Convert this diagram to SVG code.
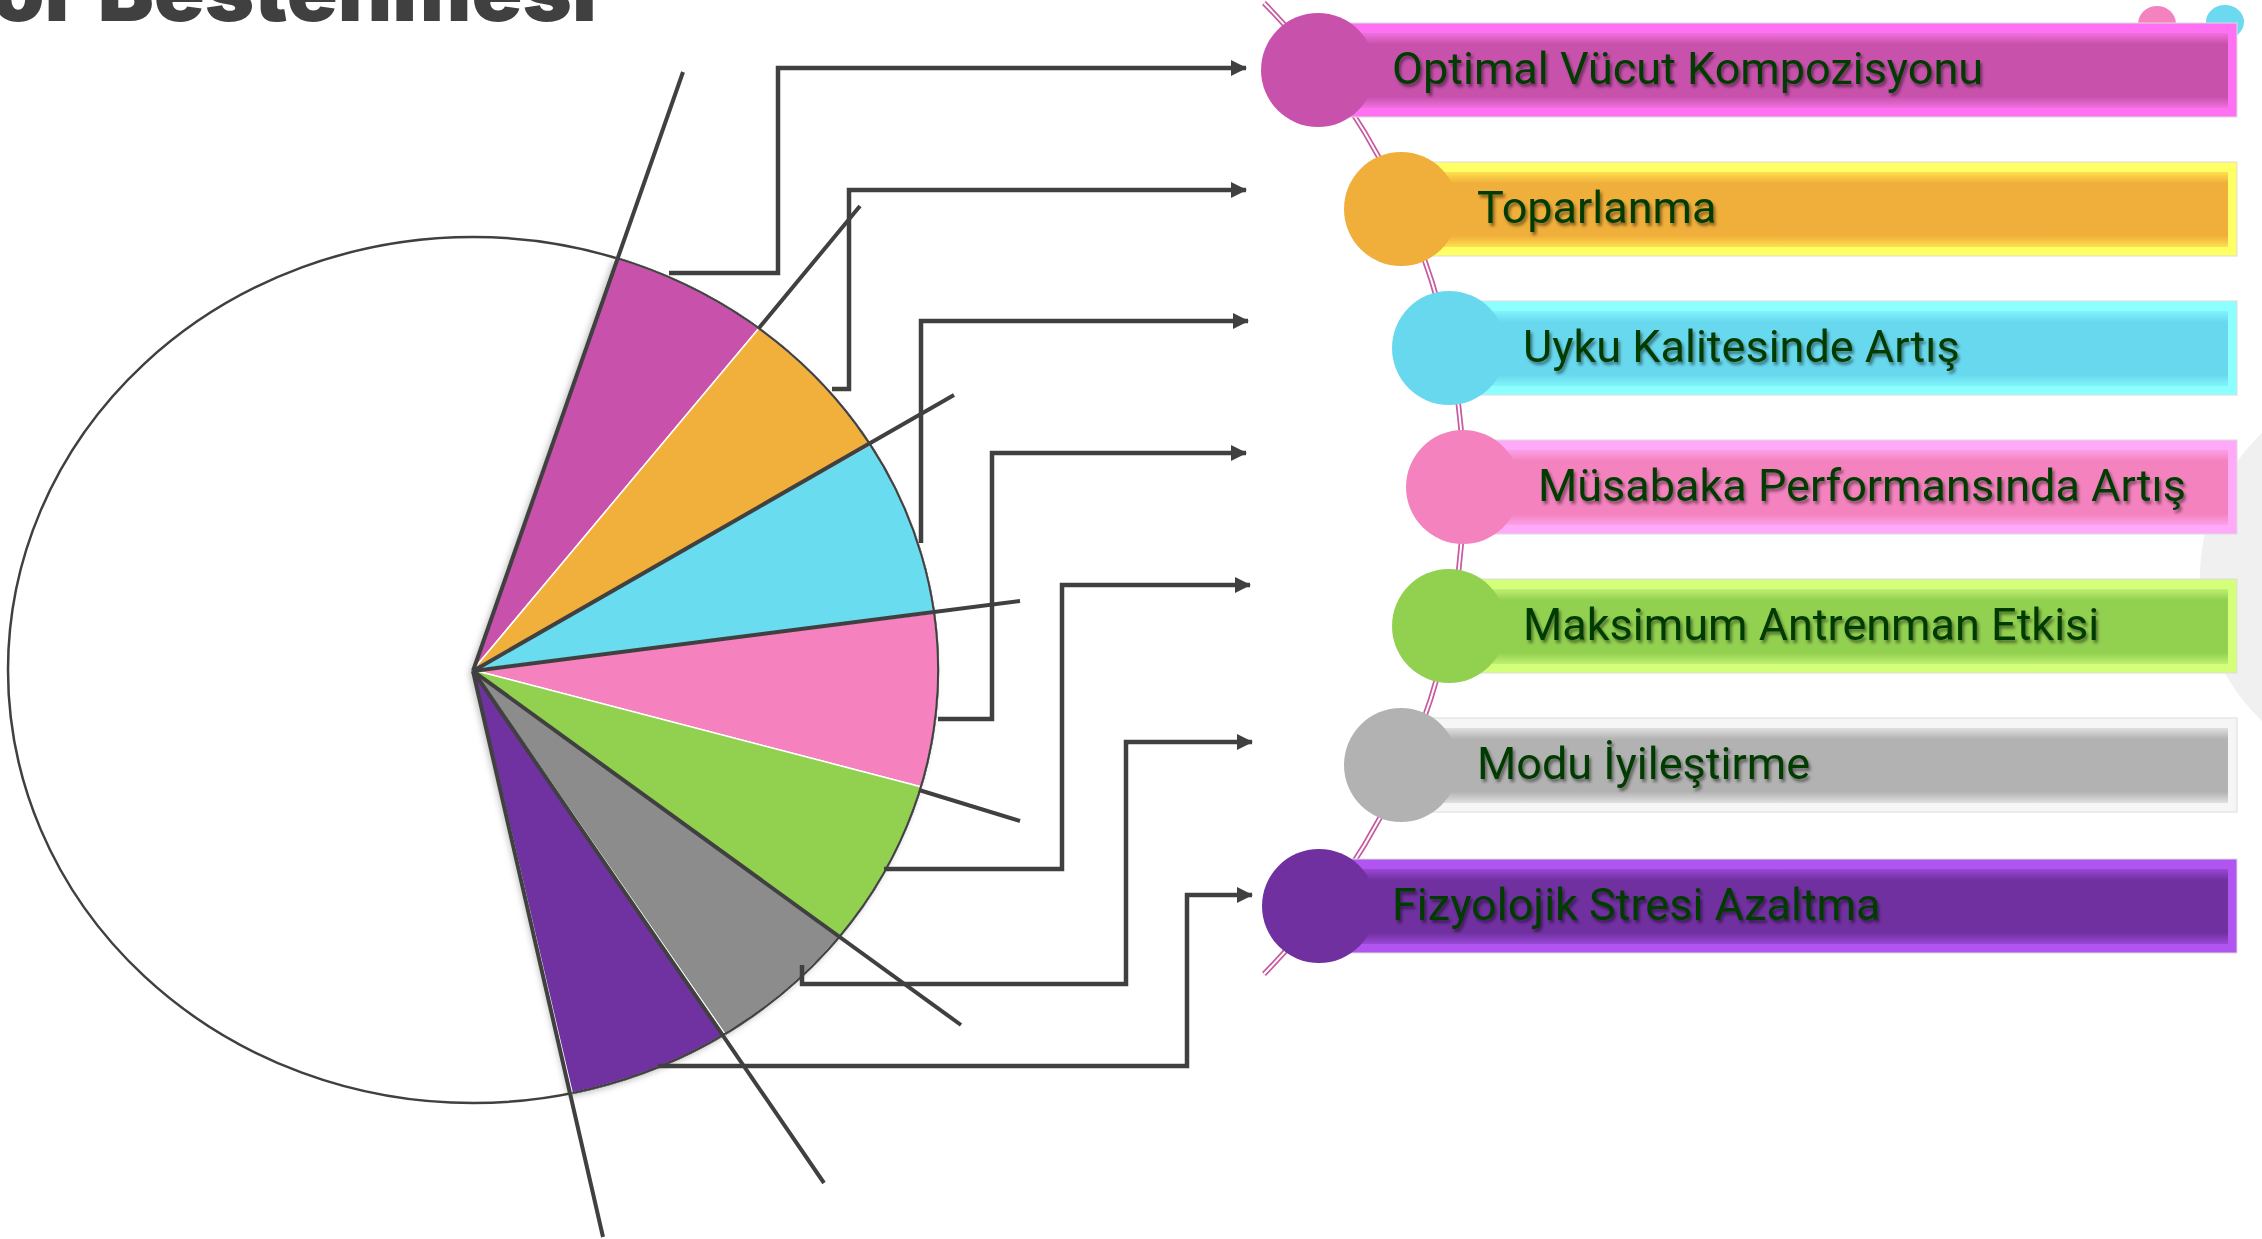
<svg xmlns="http://www.w3.org/2000/svg" width="2262" height="1239" viewBox="0 0 2262 1239">
<style>
.lead{stroke:#404040;stroke-width:4;fill:none;stroke-linecap:butt}
.conn{stroke:#404040;stroke-width:4.5;fill:none}
.slice{stroke:#ffffff;stroke-width:1.5}
.lbl{font-family:Roboto,"Liberation Sans",sans-serif;font-size:45px;fill:#033a03;filter:url(#tshadow)}
.frame{stroke:#dcdcdc;stroke-width:1}
.title{font-family:Inter,"Liberation Sans",sans-serif;font-weight:900;font-size:84px;fill:#404040}
</style>
<defs>
<marker id="arr" viewBox="0 0 16 16" refX="15" refY="8" markerWidth="16" markerHeight="16" markerUnits="userSpaceOnUse" orient="auto">
<path d="M0,0 L16,8 L0,16 z" fill="#404040"/>
</marker>
<filter id="tshadow" x="-5%" y="-20%" width="110%" height="150%">
<feDropShadow dx="2" dy="3" stdDeviation="1.5" flood-color="#000" flood-opacity="0.45"/>
</filter>
<filter id="pshadow" x="-10%" y="-10%" width="120%" height="120%">
<feDropShadow dx="-3" dy="3" stdDeviation="3" flood-color="#000" flood-opacity="0.25"/>
</filter>
<linearGradient id="f1" x1="0" y1="0" x2="0" y2="1"><stop offset="0" stop-color="#F070E0"/><stop offset="0.15" stop-color="#C851AC"/><stop offset="0.85" stop-color="#C851AC"/><stop offset="1" stop-color="#F070E0"/></linearGradient>
<linearGradient id="f2" x1="0" y1="0" x2="0" y2="1"><stop offset="0" stop-color="#FFE050"/><stop offset="0.15" stop-color="#F0AE3A"/><stop offset="0.85" stop-color="#F0AE3A"/><stop offset="1" stop-color="#FFE050"/></linearGradient>
<linearGradient id="f3" x1="0" y1="0" x2="0" y2="1"><stop offset="0" stop-color="#80F4FC"/><stop offset="0.15" stop-color="#68D8EE"/><stop offset="0.85" stop-color="#68D8EE"/><stop offset="1" stop-color="#80F4FC"/></linearGradient>
<linearGradient id="f4" x1="0" y1="0" x2="0" y2="1"><stop offset="0" stop-color="#FCA0E8"/><stop offset="0.15" stop-color="#F482BE"/><stop offset="0.85" stop-color="#F482BE"/><stop offset="1" stop-color="#FCA0E8"/></linearGradient>
<linearGradient id="f5" x1="0" y1="0" x2="0" y2="1"><stop offset="0" stop-color="#C0F070"/><stop offset="0.15" stop-color="#92D050"/><stop offset="0.85" stop-color="#92D050"/><stop offset="1" stop-color="#C0F070"/></linearGradient>
<linearGradient id="f6" x1="0" y1="0" x2="0" y2="1"><stop offset="0" stop-color="#E0E0E0"/><stop offset="0.15" stop-color="#B2B2B2"/><stop offset="0.85" stop-color="#B2B2B2"/><stop offset="1" stop-color="#E0E0E0"/></linearGradient>
<linearGradient id="f7" x1="0" y1="0" x2="0" y2="1"><stop offset="0" stop-color="#9A48D8"/><stop offset="0.15" stop-color="#7030A0"/><stop offset="0.85" stop-color="#7030A0"/><stop offset="1" stop-color="#9A48D8"/></linearGradient>
</defs>
<rect width="2262" height="1239" fill="#ffffff"/>
<text class="title" x="-8" y="21">or Bestenmesi</text>
<circle cx="2398" cy="577" r="198" fill="#F0F0F0"/>
<ellipse cx="2157" cy="24" rx="19" ry="18" fill="#F482BE"/>
<ellipse cx="2225" cy="22" rx="19" ry="17" fill="#6BD9EF"/>

<g id="pie">
<ellipse cx="473" cy="670" rx="465" ry="433" fill="none" stroke="#404040" stroke-width="2.5"/>
<g filter="url(#pshadow)">
<path class="slice" d="M473,670 L616.6,258.1 A465,433 0 0 1 758.7,328.4 Z" fill="#C851AC"/>
<path class="slice" d="M473,670 L758.7,328.4 A465,433 0 0 1 870.2,444.9 Z" fill="#F1AF3A"/>
<path class="slice" d="M473,670 L870.2,444.9 A465,433 0 0 1 934,613 Z" fill="#6BDCF0"/>
<path class="slice" d="M473,670 L934,613 A465,433 0 0 1 920.8,786.7 Z" fill="#F582BE"/>
<path class="slice" d="M473,670 L920.8,786.7 A465,433 0 0 1 838.8,937.3 Z" fill="#92D050"/>
<path class="slice" d="M473,670 L838.8,937.3 A465,433 0 0 1 724.8,1034 Z" fill="#8C8C8C"/>
<path class="slice" d="M473,670 L724.8,1034 A465,433 0 0 1 572.2,1093 Z" fill="#7030A0"/>
</g>
<path d="M616.6,258.1 A465,433 0 0 1 572.2,1093" fill="none" stroke="#404040" stroke-width="2"/>
<line class="lead" x1="473" y1="671" x2="683" y2="72"/>
<line class="lead" x1="759" y1="328" x2="860" y2="206"/>
<line class="lead" x1="473" y1="671" x2="954" y2="395"/>
<line class="lead" x1="473" y1="671" x2="1020" y2="601"/>
<line class="lead" x1="919" y1="790" x2="1020" y2="821"/>
<line class="lead" x1="473" y1="671" x2="961" y2="1025"/>
<line class="lead" x1="473" y1="671" x2="824" y2="1183"/>
<line class="lead" x1="473" y1="671" x2="603" y2="1237"/>
</g>

<g id="connectors">
<path class="conn" marker-end="url(#arr)" d="M669,273 H778 V68 H1246"/>
<path class="conn" marker-end="url(#arr)" d="M832,389 H849 V190 H1246"/>
<path class="conn" marker-end="url(#arr)" d="M921,543 V321 H1248"/>
<path class="conn" marker-end="url(#arr)" d="M938,719 H992 V453 H1246"/>
<path class="conn" marker-end="url(#arr)" d="M884,869 H1062 V585 H1250"/>
<path class="conn" marker-end="url(#arr)" d="M802,965 V984 H1126 V742 H1252"/>
<path class="conn" marker-end="url(#arr)" d="M658,1066 H1187 V895 H1252"/>
</g>

<g id="spine">
<path d="M1264,3 A690.5,690.5 0 0 1 1264,974" fill="none" stroke="#C85AA0" stroke-width="5.5"/>
<path d="M1264,3 A690.5,690.5 0 0 1 1264,974" fill="none" stroke="#ffffff" stroke-width="2"/>
</g>

<g id="node-1">
<rect class="frame" x="1348" y="23" width="889" height="94" fill="#FF70F2"/>
<rect x="1348" y="33" width="880" height="75" fill="url(#f1)"/>
<circle cx="1318" cy="70" r="57" fill="#C851AC"/>
<text class="lbl" x="1392" y="84">Optimal Vücut Kompozisyonu</text>
</g>
<g id="node-2">
<rect class="frame" x="1431" y="162" width="806" height="94" fill="#FFFF66"/>
<rect x="1431" y="172" width="797" height="75" fill="url(#f2)"/>
<circle cx="1401" cy="209" r="57" fill="#F0AE3A"/>
<text class="lbl" x="1477" y="223">Toparlanma</text>
</g>
<g id="node-3">
<rect class="frame" x="1479" y="301" width="758" height="94" fill="#8CFFFF"/>
<rect x="1479" y="311" width="749" height="75" fill="url(#f3)"/>
<circle cx="1449" cy="348" r="57" fill="#68D8EE"/>
<text class="lbl" x="1523" y="362">Uyku Kalitesinde Artış</text>
</g>
<g id="node-4">
<rect class="frame" x="1493" y="440" width="744" height="94" fill="#FFAAF8"/>
<rect x="1493" y="450" width="735" height="75" fill="url(#f4)"/>
<circle cx="1463" cy="487" r="57" fill="#F482BE"/>
<text class="lbl" x="1538" y="501">Müsabaka Performansında Artış</text>
</g>
<g id="node-5">
<rect class="frame" x="1479" y="579" width="758" height="94" fill="#D4FF7A"/>
<rect x="1479" y="589" width="749" height="75" fill="url(#f5)"/>
<circle cx="1449" cy="626" r="57" fill="#92D050"/>
<text class="lbl" x="1523" y="640">Maksimum Antrenman Etkisi</text>
</g>
<g id="node-6">
<rect class="frame" x="1431" y="718" width="806" height="94" fill="#F6F6F6"/>
<rect x="1431" y="728" width="797" height="75" fill="url(#f6)"/>
<circle cx="1401" cy="765" r="57" fill="#B2B2B2"/>
<text class="lbl" x="1477" y="779">Modu İyileştirme</text>
</g>
<g id="node-7">
<rect class="frame" x="1349" y="859" width="888" height="94" fill="#B055F0"/>
<rect x="1349" y="869" width="879" height="75" fill="url(#f7)"/>
<circle cx="1319" cy="906" r="57" fill="#7030A0"/>
<text class="lbl" x="1392" y="920">Fizyolojik Stresi Azaltma</text>
</g>
</svg>
